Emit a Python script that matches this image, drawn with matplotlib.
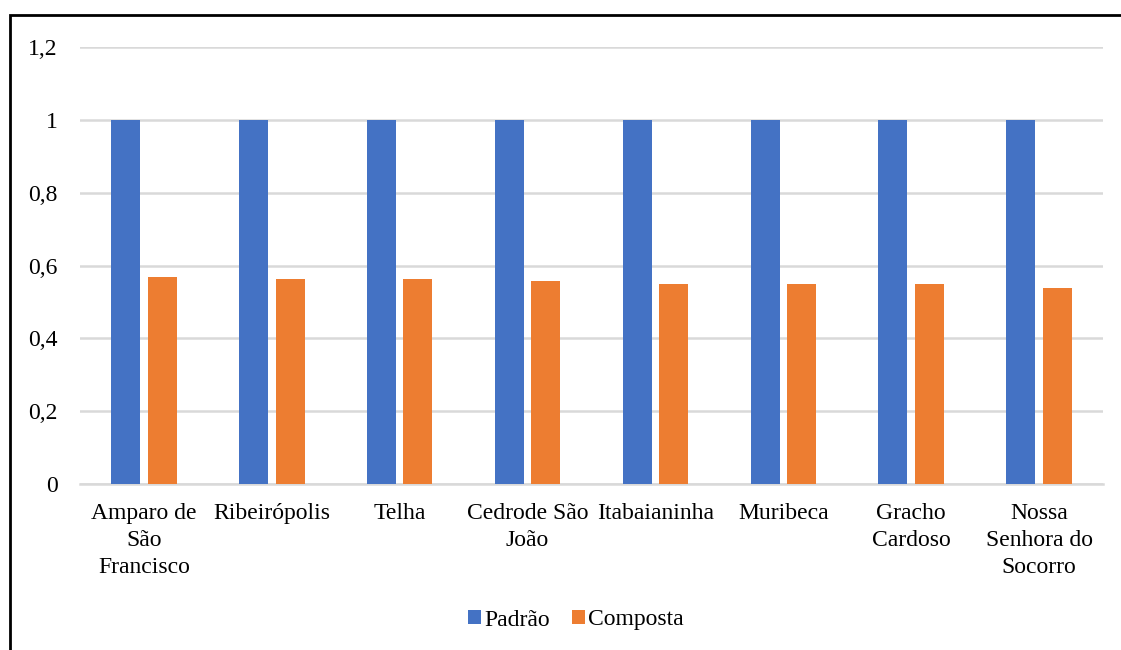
import numpy as np
import matplotlib.pyplot as plt
from matplotlib.patches import Rectangle

plt.rcParams['font.family'] = ['Liberation Serif', 'DejaVu Serif']

# Municípios e índices
municipios = ["Amparo de\nSão\nFrancisco", "Ribeirópolis", "Telha", "Cedrode São\nJoão",
              "Itabaianinha", "Muribeca", "Gracho\nCardoso", "Nossa\nSenhora do\nSocorro"]
padrao = [1, 1, 1, 1, 1, 1, 1, 1]
composta = [0.568, 0.563, 0.563, 0.557, 0.549, 0.549, 0.549, 0.538]
yticks = [0, 0.2, 0.4, 0.6, 0.8, 1.0, 1.2]
ytick_labels = ["0", "0,2", "0,4", "0,6", "0,8", "1", "1,2"]

W, H = 1121, 650
fs = 17
fig = plt.figure(figsize=(W / 100, H / 100), dpi=100)
ax = fig.add_axes([80 / W, 1 - 484 / H, (1103 - 80) / W, (484 - 47) / H])

x = np.arange(len(municipios))
bw = 0.227
off = 0.143
ax.bar(x - off, padrao, bw, color='#4472C4', label='Padrão', zorder=3)
ax.bar(x + off, composta, bw, color='#ED7D31', label='Composta', zorder=3)

ax.set_xlim(-0.5, len(municipios) - 0.5)
ax.set_ylim(0, 1.2)
ax.set_yticks(yticks)
ax.set_yticklabels(ytick_labels, fontsize=fs)
ax.set_xticks(x)
ax.set_xticklabels(municipios, fontsize=fs, linespacing=1.35, va='top')
ax.tick_params(axis='both', length=0)
ax.tick_params(axis='y', pad=16)
ax.tick_params(axis='x', pad=14)
ax.yaxis.grid(True, color='#d9d9d9', linewidth=1.8, zorder=0)
ax.set_axisbelow(True)
for s in ['top', 'right', 'left']:
    ax.spines[s].set_visible(False)
ax.spines['bottom'].set_color('#d9d9d9')
ax.spines['bottom'].set_linewidth(1.8)

fig.legend(loc='center', bbox_to_anchor=(576 / W, 1 - 620 / H), ncol=2, frameon=False,
           fontsize=fs, handlelength=0.55, handleheight=0.55, handletextpad=0.15,
           columnspacing=0.9)

# moldura da figura
fig.patches.append(Rectangle((10 / W, -0.1), 1.2, 1 - 15 / H + 0.1, transform=fig.transFigure,
                             fill=False, edgecolor='black', linewidth=2))

fig.savefig('out.png', dpi=100)
